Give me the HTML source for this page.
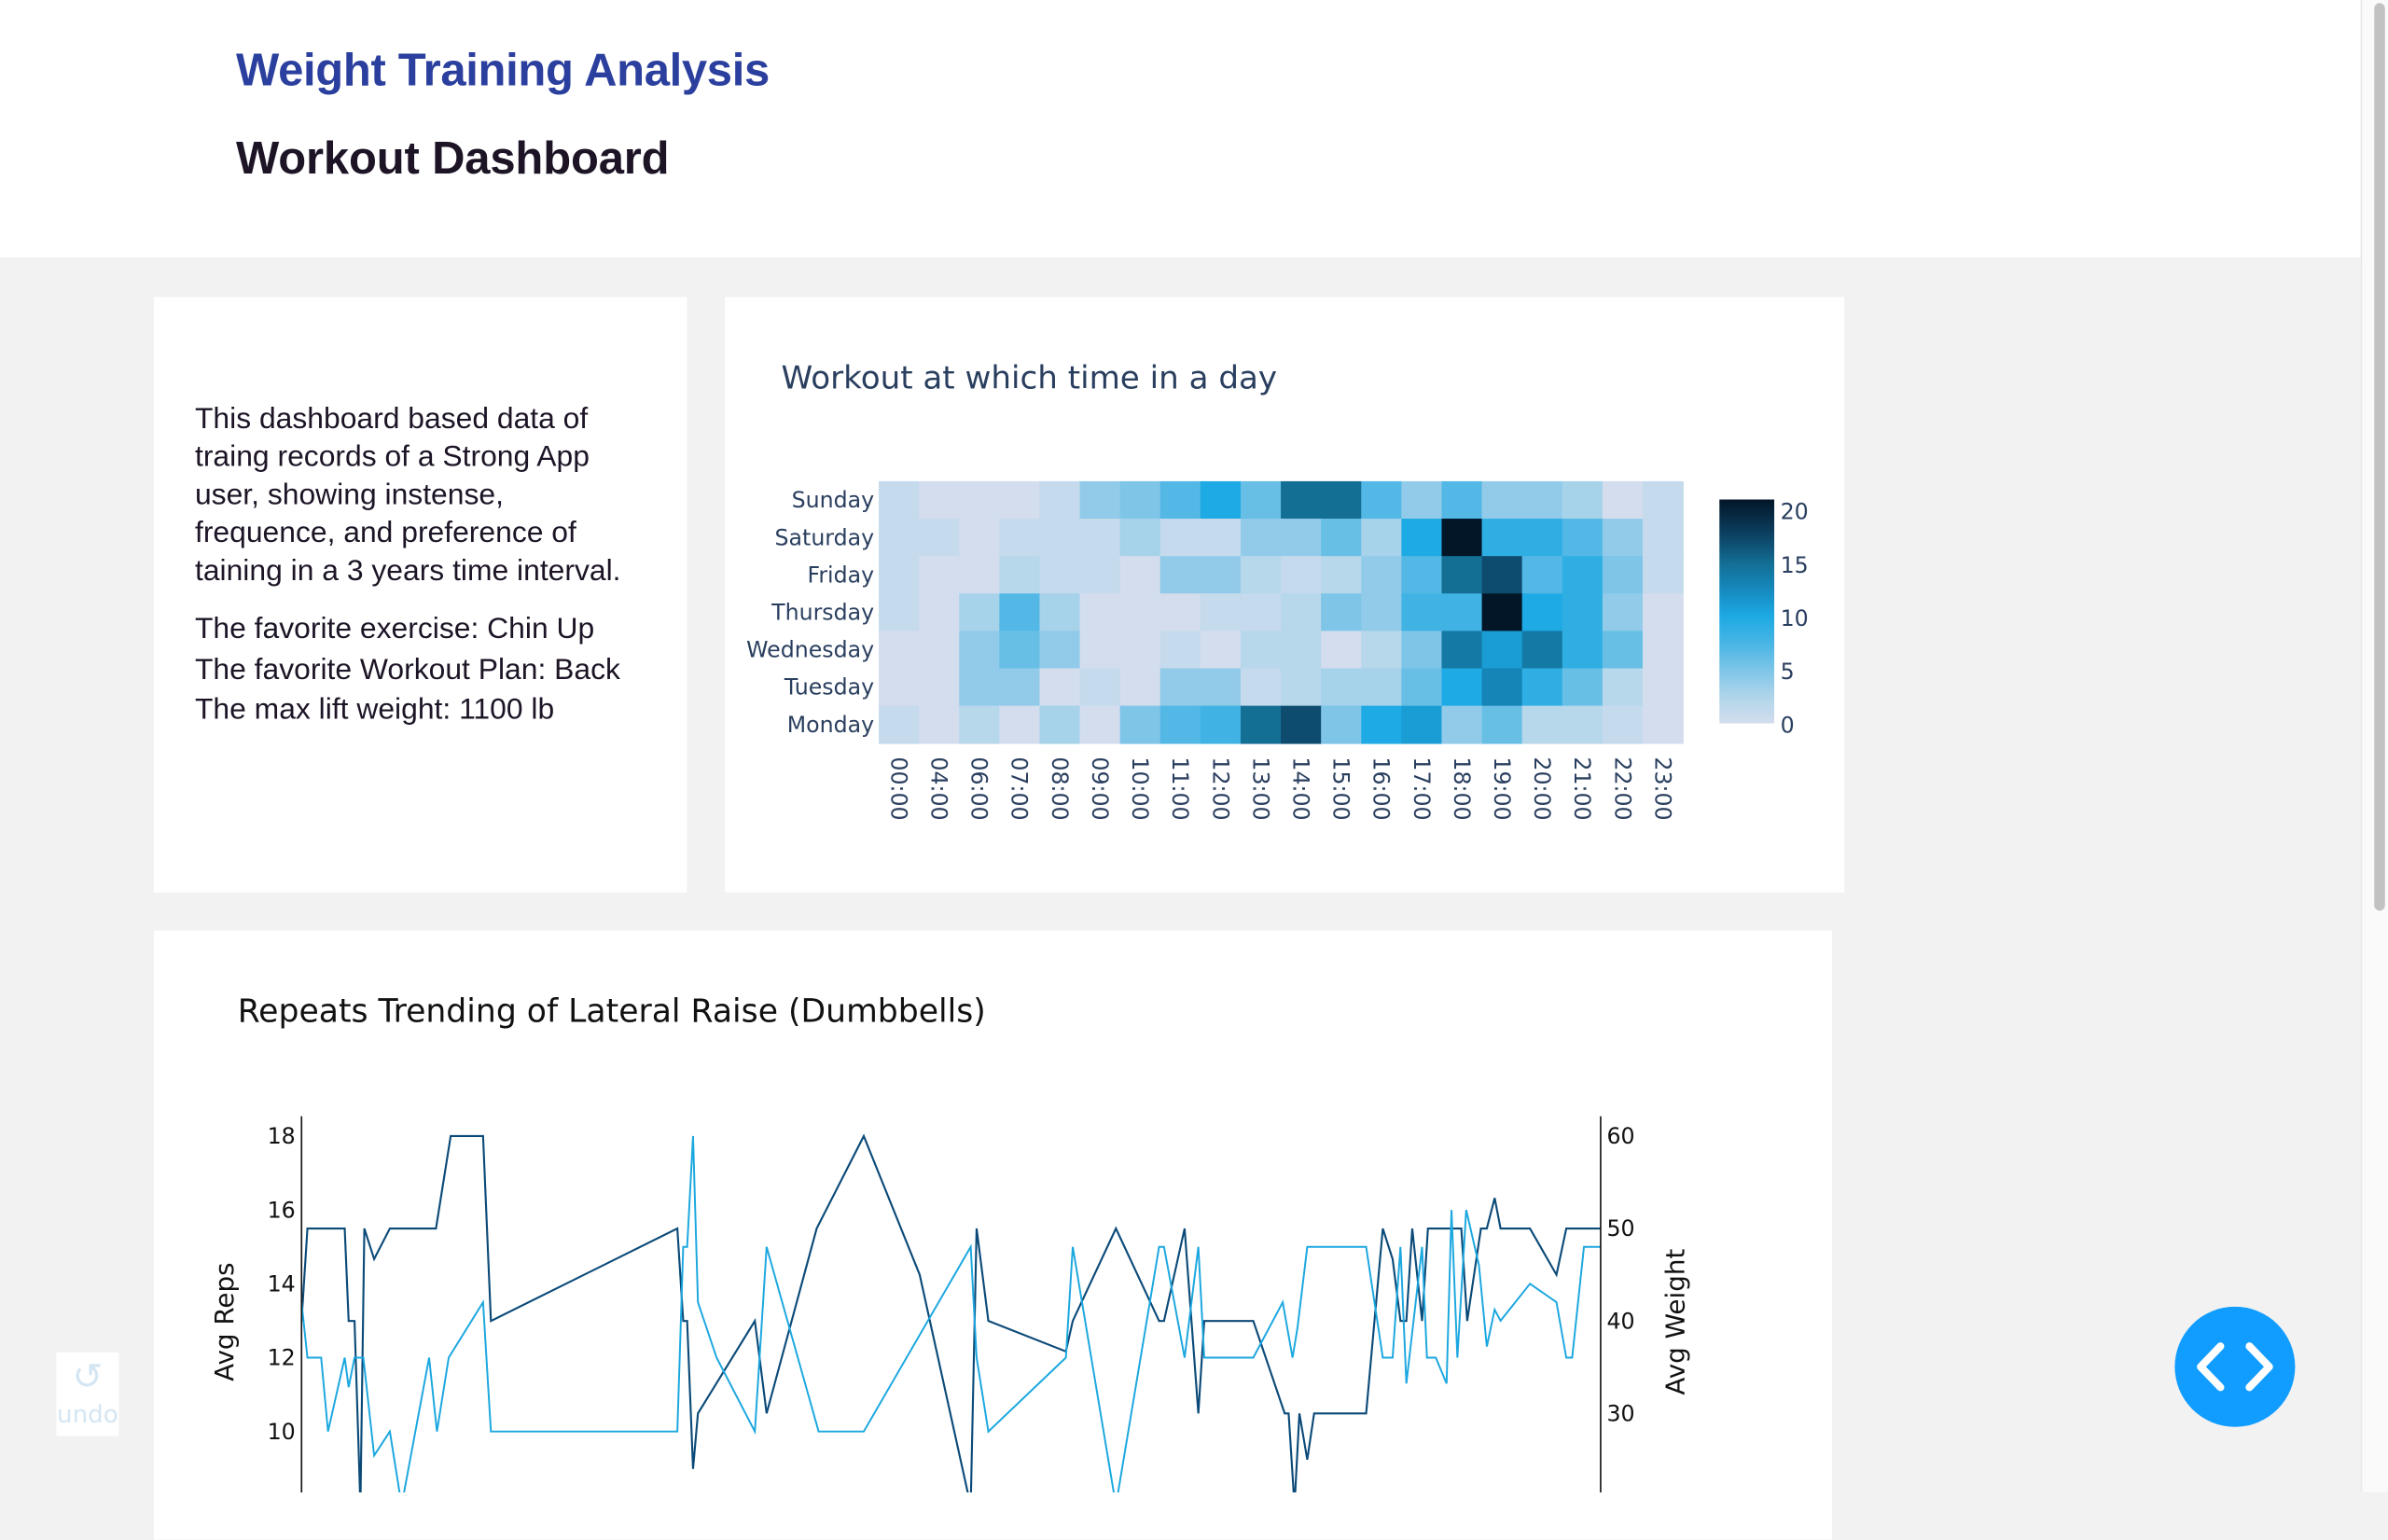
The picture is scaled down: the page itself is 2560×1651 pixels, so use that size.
<!DOCTYPE html>
<html><head><meta charset="utf-8">
<style>
html,body{margin:0;padding:0;width:2560px;height:1600px;overflow:hidden;background:#f2f2f2;}
#stage{position:absolute;left:0;top:0;width:1568px;height:980px;transform:scale(1.632653);transform-origin:0 0;font-family:"Liberation Sans",sans-serif;}
.hdr{position:absolute;left:0;top:0;width:1550px;height:169px;background:#fff;}
.card{position:absolute;background:#fff;}
.t1{position:absolute;left:155px;top:30px;font-size:30px;font-weight:bold;color:#2b3f9e;letter-spacing:-0.2px;}
.t2{position:absolute;left:155px;top:88px;font-size:30px;font-weight:bold;color:#1d1526;letter-spacing:-0.1px;}
.desc{position:absolute;left:27px;top:68px;width:300px;font-size:19.5px;line-height:25px;color:#1d1526;}
.fav{position:absolute;left:27px;top:205px;font-size:19.5px;line-height:26.5px;color:#1d1526;}
svg text{font-family:"DejaVu Sans",sans-serif;}
</style></head><body>
<div id="stage">
 <div class="hdr">
  <div class="t1">Weight Training Analysis</div>
  <div class="t2">Workout Dashboard</div>
 </div>
 <div style="position:absolute;left:1550px;top:0;width:18px;height:980px;background:#fafafa;border-left:1px solid #e8e8e8;"></div>
 <div style="position:absolute;left:1559px;top:2px;width:7px;height:596px;background:#c2c2c2;border-radius:4px;"></div>

 <div class="card" style="left:101px;top:195px;width:350px;height:391px;">
  <div class="desc">This dashboard based data of traing records of a Strong App user, showing instense, frequence, and preference of taining in a 3 years time interval.</div>
  <div class="fav">The favorite exercise: Chin Up<br>The favorite Workout Plan: Back<br>The max lift weight: 1100 lb</div>
 </div>

 <div class="card" style="left:476px;top:195px;width:735px;height:391px;"></div>
 <svg id="hm" style="position:absolute;left:0;top:0" width="1568" height="980"></svg>

 <div class="card" style="left:101px;top:611px;width:1102px;height:400px;"></div>
 <svg id="lc" style="position:absolute;left:0;top:0" width="1568" height="980"></svg>

 <div style="position:absolute;left:37px;top:888px;width:41px;height:55px;background:#fff;color:#d5e6f3;font-size:17px;text-align:center;font-family:'DejaVu Sans',sans-serif;"><div style="font-size:24px;line-height:32px;">↺</div><div style="line-height:18px;font-size:16px;">undo</div></div>
 <div style="position:absolute;left:1428px;top:858px;width:79px;height:79px;border-radius:50%;background:#119dff;">
  <svg width="79" height="79"><path d="M30 26 L17 39.5 L30 53 M49 26 L62 39.5 L49 53" stroke="#fff" stroke-width="5" fill="none" stroke-linecap="round" stroke-linejoin="round"/></svg>
 </div>
</div>
<script>
const NS="http://www.w3.org/2000/svg";
function mk(p,tag,at,txt){const e=document.createElementNS(NS,tag);for(const k in at)e.setAttribute(k,at[k]);if(txt!==undefined)e.textContent=txt;p.appendChild(e);return e;}

// ---------- Heatmap data ----------
const hours=["00:00","04:00","06:00","07:00","08:00","09:00","10:00","11:00","12:00","13:00","14:00","15:00","16:00","17:00","18:00","19:00","20:00","21:00","22:00","23:00"];
const days=["Sunday","Saturday","Friday","Thursday","Wednesday","Tuesday","Monday"];
const sunday=[1,0,0,0,1,4,5,7,10,6,15,15,7,4,7,4,4,3,0,1];
const saturday=[1,1,0,1,1,1,3,1,1,4,4,6,3,10,21,9,9,7,4,1];
const friday=[1,0,0,2,1,1,0,4,4,2,1,2,4,7,15,17,7,9,5,1];
const thursday=[1,0,3,7,3,0,0,0,1,1,2,5,4,8,8,21,10,9,4,0];
const wednesday=[0,0,4,6,4,0,0,1,0,2,2,0,2,5,14,11,14,9,6,0];
const tuesday=[0,0,4,4,0,1,0,4,4,1,2,3,3,6,10,13,9,6,2,0];
const monday=[1,0,2,0,3,0,5,7,8,15,17,5,10,11,4,6,2,2,1,0];
const zRows=[sunday,saturday,friday,thursday,wednesday,tuesday,monday];
const cbTicks=[0,5,10,15,20];

const stops=[[0,[211,221,238]],[2.5,[176,213,234]],[5,[126,197,232]],[7.5,[72,181,228]],[10,[30,170,228]],[12.5,[21,137,191]],[15,[20,111,148]],[17.5,[12,67,102]],[21,[3,22,40]]];
function col(v){for(let i=1;i<stops.length;i++){if(v<=stops[i][0]){const a=stops[i-1],b=stops[i];const t=(v-a[0])/(b[0]-a[0]);return "rgb("+a[1].map((c,j)=>Math.round(c+(b[1][j]-c)*t)).join(",")+")";}}return "rgb(3,22,40)";}

const hm=document.getElementById("hm");
const hx0=577,hx1=1105,hy0=316,hy1=488;
const cw=(hx1-hx0)/hours.length, ch=(hy1-hy0)/days.length;
const xH=i=>hx0+i*cw, yH=j=>hy0+j*ch;
let ht=mk(hm,"text",{x:513,y:255,"font-size":20.9,fill:"#2a3f5f"},"Workout at which time in a day");


zRows.forEach((row,j)=>{row.forEach((v,i)=>{
  const r=mk(hm,"rect",{x:xH(i),y:yH(j),width:cw+0.5,height:ch+0.5,fill:col(v)});
  
  
});
  const t=mk(hm,"text",{x:574,y:yH(j)+ch/2+5,"font-size":14.5,fill:"#2a3f5f","text-anchor":"end"},days[j]);
  
  
});
hours.forEach((h,i)=>{
  const cx=xH(i)+cw/2-5;
  const t=mk(hm,"text",{x:cx,y:497,"font-size":14.5,fill:"#2a3f5f",transform:`rotate(90 ${cx} 497)`},h);
  
  
});
// colorbar
const cbx=1129,cby0=328,cby1=475,cbmax=21;
const g=mk(hm,"defs",{});const lg=mk(g,"linearGradient",{id:"cbg",x1:0,y1:1,x2:0,y2:0});
for(let k=0;k<=21;k++)mk(lg,"stop",{offset:k/21,"stop-color":col(k)});
const cb=mk(hm,"rect",{x:cbx,y:cby0,width:36,height:cby1-cby0,fill:"url(#cbg)"});


const yCB=v=>cby1-(v/cbmax)*(cby1-cby0);
cbTicks.forEach(v=>{
  const t=mk(hm,"text",{x:1169,y:yCB(v)+6,"font-size":14.5,fill:"#2a3f5f"},String(v));
  
  
});

// ---------- Line chart data ----------
const repsX=[0,6,20,27,44,48,54,63,74,90,102,130,138,150,185,193,383,389,393,399,404,423,462,474,527,573,682,688,700,779,786,830,874,879,900,914,920,970,1000,1010,1015,1025,1085,1102,1112,1120,1126,1142,1147,1156,1167,1172,1178,1187,1200,1208,1216,1222,1252,1279,1289,1295,1307,1324];
const repsY=[13.5,12,12,10,12,11.2,12,12,9.35,10,8,12,10,12,13.5,10,10,15,15,18,13.5,12,10,15,10,10,15,12,10,12,15,8,15,15,12,15,12,12,13.5,12,12.8,15,15,12,12,15,11.3,15,12,12,11.3,16,12,16,14.5,12.3,13.3,13,14,13.5,12,12,15,15];
const wX=[0,6,44,48,54,60,64,74,90,137,152,185,193,383,389,393,399,404,462,474,525,573,630,682,688,700,779,786,830,874,879,900,914,920,970,1002,1006,1012,1017,1025,1032,1085,1102,1112,1120,1126,1132,1142,1148,1182,1188,1202,1208,1216,1222,1252,1279,1289,1324];
const wY=[40,50,50,40,40,20,50,46.7,50,50,60,60,40,50,40,40,24,30,40,30,50,60,45,20,50,40,36.7,40,50,40,40,50,30,40,40,30,30,20,30,25,30,30,50,46.7,40,40,50,40,50,50,40,50,50,53.3,50,50,45,50,50];
const repsTicks=[10,12,14,16,18];
const wTicks=[30,40,50,60];

const lc=document.getElementById("lc");
const px0=198,px1=1051,xMax=1324;
const xL=v=>px0+v/xMax*(px1-px0);
const yR=v=>746+(18-v)*24.25;
const yW=v=>746+(60-v)*6.07;
let lt=mk(lc,"text",{x:156,y:671,"font-size":21.2,fill:"#111"},"Repeats Trending of Lateral Raise (Dumbbells)");


const cp=mk(mk(lc,"defs",{}),"clipPath",{id:"pc"});mk(cp,"rect",{x:px0,y:733,width:px1-px0,height:300});
const wl=mk(lc,"polyline",{points:wX.map((x,i)=>xL(x)+","+yW(wY[i])).join(" "),fill:"none",stroke:"#0b4a78","stroke-width":1.3,"clip-path":"url(#pc)"});


const rl=mk(lc,"polyline",{points:repsX.map((x,i)=>xL(x)+","+yR(repsY[i])).join(" "),fill:"none",stroke:"#1ba7df","stroke-width":1.2,"clip-path":"url(#pc)"});


const la=mk(lc,"line",{x1:px0,y1:733,x2:px0,y2:990,stroke:"#111","stroke-width":1});


const ra=mk(lc,"line",{x1:px1,y1:733,x2:px1,y2:990,stroke:"#111","stroke-width":1});


repsTicks.forEach(v=>{
  const t=mk(lc,"text",{x:194,y:yR(v)+5,"font-size":14.5,fill:"#111","text-anchor":"end"},String(v));
  
  
});
wTicks.forEach(v=>{
  const t=mk(lc,"text",{x:1055,y:yW(v)+5,"font-size":14.5,fill:"#111"},String(v));
  
  
});
const yt1=mk(lc,"text",{x:153,y:868,"font-size":17,fill:"#111","text-anchor":"middle",transform:"rotate(-90 153 868)"},"Avg Reps");


const yt2=mk(lc,"text",{x:1106,y:868,"font-size":17,fill:"#111","text-anchor":"middle",transform:"rotate(-90 1106 868)"},"Avg Weight");


</script>
</body></html>
